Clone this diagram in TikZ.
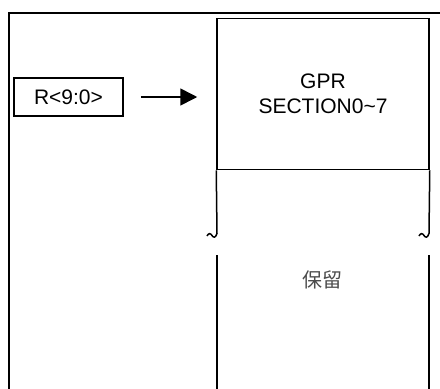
\documentclass[tikz,border=0pt]{standalone}
\usepackage{fontspec}
\setmainfont{Liberation Sans}
\newfontfamily\cjk{Noto Sans CJK SC}
\usetikzlibrary{arrows.meta}
\begin{document}
\begin{tikzpicture}[x=1pt,y=-1pt,
  every node/.style={font=\fontsize{21}{26}\selectfont},
  boxstyle/.style={draw,line width=1.5pt,rectangle,inner sep=0pt,align=center},
  wall/.style={line width=1.5pt}]
\useasboundingbox (0,0) rectangle (440,389);
% outer frame
\draw[line width=2pt] (8.5,389) -- (8.5,12.5) -- (440,12.5);
% register box
\node[boxstyle,minimum width=109pt,minimum height=38pt] (r) at (68.5,97) {R<9:0>};
% GPR section box
\node[boxstyle,minimum width=212pt,minimum height=151pt] (gpr) at (323,94.2) {GPR\\[-1pt]SECTION0\char`\~7};
% arrow
\draw[line width=1.6pt,-{Triangle[length=17pt,width=17pt]},shorten <=17pt,shorten >=19pt] (r.east) -- (r.east -| gpr.west);
% walls with break marks
\coordinate (lt) at (gpr.south west);
\coordinate (rt) at (gpr.south east);
\draw[wall] (lt) -- (217,233.5) .. controls (215.5,238) and (213.5,238) .. (212,235.5) .. controls (210.5,233) and (208.5,233) .. (207,236);
\draw[wall] (rt) -- (429,233.5) .. controls (427.5,238) and (425.5,238) .. (424,235.5) .. controls (422.5,233) and (420.5,233) .. (419,236);
\draw[wall] (217,255) -- (217,389);
\draw[wall] (429,255) -- (429,389);
\node[font=\cjk\fontsize{20}{24}\selectfont,text=black!70] (res) at (322,280) {保留};
\end{tikzpicture}
\end{document}
